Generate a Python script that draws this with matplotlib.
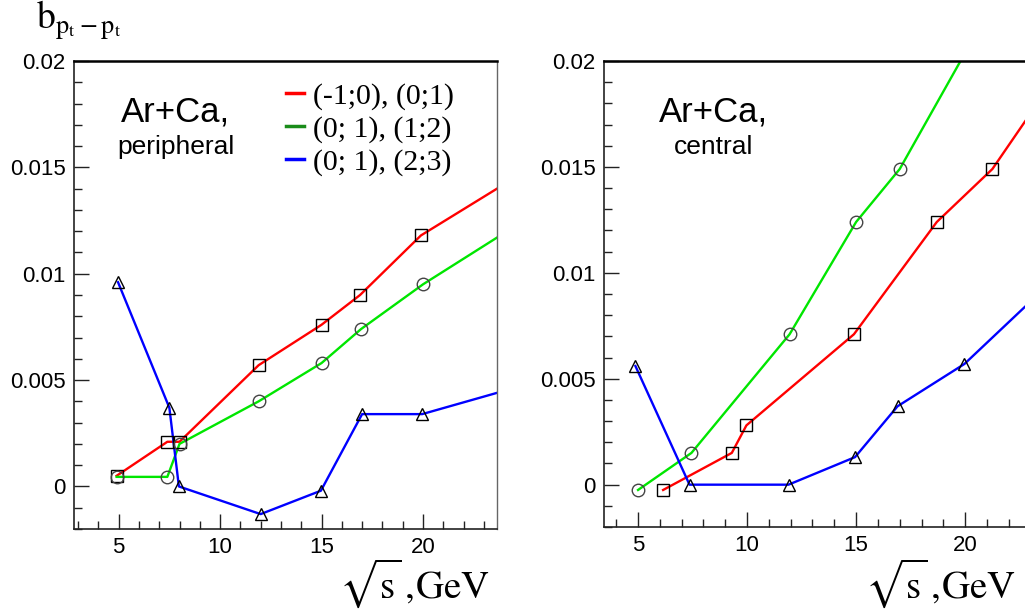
import matplotlib
matplotlib.use('Agg')
import matplotlib.pyplot as plt
from matplotlib.lines import Line2D
from matplotlib.ticker import MultipleLocator, FuncFormatter

plt.rcParams['font.family'] = ['Liberation Sans', 'DejaVu Sans']
plt.rcParams['mathtext.fontset'] = 'stix'

# --- данные: периферические столкновения Ar+Ca
per_red_x = [4.9, 7.4, 8.0, 11.9, 15.0, 16.9, 19.9, 23.65]
per_red_y = [0.0005, 0.0021, 0.0021, 0.0057, 0.0076, 0.0090, 0.0118, 0.0140]
per_green_x = [4.9, 7.4, 8.0, 11.9, 15.0, 16.95, 20.0, 23.65]
per_green_y = [0.00045, 0.00045, 0.0020, 0.0040, 0.0058, 0.0074, 0.0095, 0.0117]
per_blue_x = [4.97, 7.5, 7.97, 12.0, 14.97, 17.0, 19.96, 23.65]
per_blue_y = [0.0096, 0.0037, 0.0, -0.0013, -0.0002, 0.0034, 0.0034, 0.0044]

# --- данные: центральные столкновения Ar+Ca
cen_red_x = [6.15, 9.3, 9.97, 14.9, 18.7, 21.25, 22.85]
cen_red_y = [-0.00025, 0.0015, 0.0028, 0.0071, 0.0124, 0.0149, 0.0173]
cen_green_x = [5.0, 7.45, 11.95, 15.0, 17.0, 20.5]
cen_green_y = [-0.00025, 0.0015, 0.0071, 0.0124, 0.0149, 0.0213]
cen_blue_x = [4.88, 7.36, 11.9, 14.95, 16.9, 19.97, 22.85]
cen_blue_y = [0.0056, 0.0, 0.0, 0.0013, 0.0037, 0.0057, 0.0085]

legend_labels = ['(-1;0), (0;1)', '(0; 1), (1;2)', '(0; 1), (2;3)']
y_ticks = [0, 0.005, 0.01, 0.015, 0.02]
x_ticks = [5, 10, 15, 20]

RED, GREEN, BLUE = '#ff0000', '#00e600', '#0000ff'


def draw_panel(ax, series, xlim, title, subtitle, tx):
    # линии без маркеров (последняя точка - выход за рамку)
    for x, y, c, m, mc in series:
        ax.plot(x, y, color=c, lw=1.7, zorder=2)
        ax.plot(x[:-1], y[:-1], ls='none', marker=m, ms=9, mfc='none',
                mec=mc, mew=1.0, zorder=3)
    ax.set_xlim(*xlim)
    ax.set_ylim(-0.002, 0.02)
    ax.set_xticks(x_ticks)
    ax.set_yticks(y_ticks)
    ax.xaxis.set_minor_locator(MultipleLocator(1))
    ax.yaxis.set_minor_locator(MultipleLocator(0.001))
    ax.yaxis.set_major_formatter(FuncFormatter(lambda v, p: '%g' % round(v, 4)))
    ax.tick_params(which='major', direction='in', length=11, width=1.0,
                   labelsize=16, color='#222', pad=6)
    ax.tick_params(which='minor', direction='in', length=6, width=1.0, color='#222')
    ax.spines['top'].set_linewidth(1.8)
    ax.spines['top'].set_color('black')
    ax.spines['right'].set_color('#666')
    ax.spines['right'].set_linewidth(1.0)
    for s in ['left', 'bottom']:
        ax.spines[s].set_linewidth(1.2)
        ax.spines[s].set_color('#222')
    ax.text(tx, 0.89, title, transform=ax.transAxes, ha='center', va='center',
            fontsize=25)
    ax.text(tx, 0.816, subtitle, transform=ax.transAxes, ha='center', va='center',
            fontsize=19)


fig = plt.figure(figsize=(10.25, 6.1), dpi=100)
ax1 = fig.add_axes([0.0722, 0.1328, 0.4127, 0.7672])
ax2 = fig.add_axes([0.5893, 0.136, 0.4127, 0.764])

draw_panel(ax1, [(per_red_x, per_red_y, RED, 's', 'black'),
                 (per_green_x, per_green_y, GREEN, 'o', '#444'),
                 (per_blue_x, per_blue_y, BLUE, '^', 'black')],
           (2.8, 23.65), 'Ar+Ca,', 'peripheral', 0.24)
draw_panel(ax2, [(cen_red_x, cen_red_y, RED, 's', 'black'),
                 (cen_green_x, cen_green_y, GREEN, 'o', '#444'),
                 (cen_blue_x, cen_blue_y, BLUE, '^', 'black')],
           (3.44, 22.84), 'Ar+Ca,', 'central', 0.258)

# легенда
handles = [Line2D([], [], color=c, lw=2.5) for c in [RED, '#1a8c1a', BLUE]]
ax1.legend(handles, legend_labels, loc='upper left', bbox_to_anchor=(0.50, 0.953),
           frameon=False, handlelength=0.62, handletextpad=0.3, labelspacing=0.19,
           borderpad=0, borderaxespad=0,
           prop={'family': 'Liberation Serif', 'size': 21.5})

# подписи осей
fig.text(0.035, 0.952, r'$\mathrm{b}_{\mathrm{p_t - p_t}}$', fontsize=27,
         ha='left', va='baseline')
xlab = r'$\sqrt{\mathrm{s}}\,,\!\mathrm{GeV}$'
fig.text(0.478, 0.02, xlab, fontsize=28, ha='right', va='baseline')
fig.text(0.991, 0.02, xlab, fontsize=28, ha='right', va='baseline')

fig.savefig('out.png', dpi=100)
